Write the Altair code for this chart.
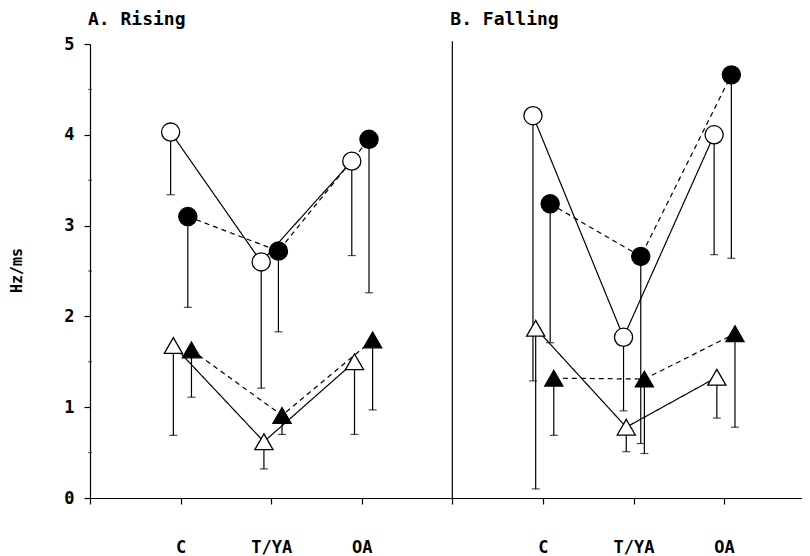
import altair as alt
import pandas as pd

# ---------------- data ----------------
categories = ["C", "T/YA", "OA"]
panels = ["A. Rising", "B. Falling"]
series = ["open circle", "filled circle", "open triangle", "filled triangle"]

rising_open_circle = [4.03, 2.60, 3.71]
rising_open_circle_low = [3.34, 1.21, 2.67]
rising_filled_circle = [3.10, 2.72, 3.95]
rising_filled_circle_low = [2.10, 1.83, 2.26]
rising_open_triangle = [1.68, 0.62, 1.50]
rising_open_triangle_low = [0.69, 0.32, 0.70]
rising_filled_triangle = [1.63, 0.91, 1.74]
rising_filled_triangle_low = [1.11, 0.70, 0.97]

falling_open_circle = [4.21, 1.77, 4.00]
falling_open_circle_low = [1.29, 0.96, 2.68]
falling_filled_circle = [3.24, 2.66, 4.66]
falling_filled_circle_low = [1.71, 0.60, 2.64]
falling_open_triangle = [1.87, 0.78, 1.33]
falling_open_triangle_low = [0.10, 0.51, 0.88]
falling_filled_triangle = [1.32, 1.31, 1.81]
falling_filled_triangle_low = [0.69, 0.49, 0.78]

y_ticks = [0, 1, 2, 3, 4, 5]
minor_ticks = [0.5, 1.5, 2.5, 3.5, 4.5]

# ---------------- styling ----------------
STYLE = {
    "open circle": dict(shape="circle", fill="white", dash="solid", offset=-0.11),
    "filled circle": dict(shape="circle", fill="black", dash="dashed", offset=0.08),
    "open triangle": dict(shape="triangle-up", fill="white", dash="solid", offset=-0.08),
    "filled triangle": dict(shape="triangle-up", fill="black", dash="dashed", offset=0.12),
}
PANEL_SLOT = {"A. Rising": 0, "B. Falling": 4}
FONT = "DejaVu Sans Mono"

values = {
    ("A. Rising", "open circle"): (rising_open_circle, rising_open_circle_low),
    ("A. Rising", "filled circle"): (rising_filled_circle, rising_filled_circle_low),
    ("A. Rising", "open triangle"): (rising_open_triangle, rising_open_triangle_low),
    ("A. Rising", "filled triangle"): (rising_filled_triangle, rising_filled_triangle_low),
    ("B. Falling", "open circle"): (falling_open_circle, falling_open_circle_low),
    ("B. Falling", "filled circle"): (falling_filled_circle, falling_filled_circle_low),
    ("B. Falling", "open triangle"): (falling_open_triangle, falling_open_triangle_low),
    ("B. Falling", "filled triangle"): (falling_filled_triangle, falling_filled_triangle_low),
}

rows = []
for p in panels:
    for s in series:
        v, lo = values[(p, s)]
        st = STYLE[s]
        for i, c in enumerate(categories):
            rows.append(dict(panel=p, series=s, category=c,
                             x=PANEL_SLOT[p] + i + 1 + st["offset"],
                             value=v[i], low=lo[i], shape=st["shape"],
                             fill=st["fill"], dash=st["dash"], key=p + s))
df = pd.DataFrame(rows)

# ---------------- scales & axes ----------------
xscale = alt.Scale(domain=[0, 7.86], nice=False, zero=False)
yscale = alt.Scale(domain=[0, 5], nice=False, zero=False)

label_map = {}
for p in panels:
    for i, c in enumerate(categories):
        label_map[PANEL_SLOT[p] + i + 1] = c
label_expr = "".join(f"datum.value == {k} ? '{v}' : " for k, v in label_map.items()) + "''"

xaxis = alt.Axis(values=[0, 1, 2, 3, 4, 5, 6, 7], labelExpr=label_expr, tickSize=6,
                 labelPadding=35, labelFont=FONT, labelFontSize=17, labelFontWeight="bold",
                 labelFlush=False, labelOverlap=False, grid=False, title=None,
                 domainColor="black", tickColor="black", labelColor="black")
yaxis = alt.Axis(values=y_ticks, format="d", tickSize=6, labelPadding=10, labelFont=FONT,
                 labelFontSize=17, labelFontWeight="bold", grid=False, title="Hz/ms",
                 titleFont=FONT, titleFontSize=15, titleFontWeight="bold",
                 titleX=-66, titleY=226, domainColor="black", tickColor="black",
                 labelColor="black", titleColor="black")

X = alt.X("x:Q", scale=xscale, axis=xaxis)
Y = alt.Y("value:Q", scale=yscale, axis=yaxis)
Ylow = alt.Y("low:Q", scale=yscale, axis=yaxis)

base = alt.Chart(df)

divider = alt.Chart(pd.DataFrame({"x": [PANEL_SLOT["B. Falling"]]})).mark_rule(
    color="black", strokeWidth=1.2).encode(x=X, y=alt.datum(0), y2=alt.datum(5.03))

minor = alt.Chart(pd.DataFrame({"y": minor_ticks})).mark_tick(
    orient="horizontal", size=4, thickness=1, color="black").encode(
    x=alt.datum(0), y=alt.Y("y:Q", scale=yscale, axis=yaxis))

errbars = base.mark_rule(color="black", strokeWidth=1.2).encode(x=X, y=Y, y2="low:Q")

caps = base.mark_tick(orient="horizontal", size=8, thickness=1.2, color="black").encode(
    x=X, y=Ylow)

lines = base.mark_line(color="black", strokeWidth=1.2).encode(
    x=X, y=Y, detail="key:N",
    strokeDash=alt.StrokeDash("dash:N", scale=alt.Scale(domain=["solid", "dashed"],
                                                        range=[[1, 0], [5, 4]]), legend=None))

points = base.mark_point(filled=True, size=330, strokeWidth=1.3, opacity=1).encode(
    x=X, y=Y,
    shape=alt.Shape("shape:N", scale=None),
    fill=alt.Fill("fill:N", scale=None),
    stroke=alt.value("black"))

titles = alt.Chart(pd.DataFrame({"title": panels, "x": [PANEL_SLOT[p] for p in panels]})).mark_text(
    align="left", baseline="alphabetic", dx=-2, dy=-19, font=FONT, fontSize=18,
    fontWeight="bold", color="black").encode(x=X, y=alt.datum(5), text="title:N")

chart = alt.layer(divider, minor, errbars, caps, lines, points, titles).properties(
    width=712, height=454,
    autosize=alt.AutoSizeParams(type="none"),
    padding={"left": 82, "top": 36, "right": 0, "bottom": 60},
    background="white",
).configure_view(stroke=None).configure_axis(domainWidth=1.2, tickWidth=1.2)

chart.save("out.html", embed_options={"renderer": "svg", "actions": False})
